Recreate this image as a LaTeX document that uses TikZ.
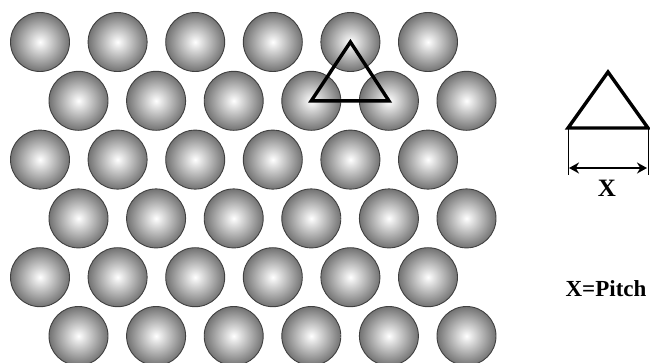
\documentclass[tikz,border=0pt]{standalone}
\usepackage{fontspec}
\setmainfont{Liberation Serif}
\usetikzlibrary{arrows.meta}
\begin{document}
\begin{tikzpicture}[x=1pt,y=-1pt,
  ball/.style={circle,minimum size=59pt,inner sep=0pt,draw=black!75,line width=0.9pt,inner color=white,outer color=black!55},
  tri/.style={line width=3.4pt,line join=miter},
  lbl/.style={font=\bfseries\fontsize{23}{26}\selectfont,inner sep=0pt}]
\useasboundingbox (0,0) rectangle (650,362);
\foreach \r in {0,...,5}{
  \pgfmathsetmacro{\yy}{42+58.8*\r}
  \pgfmathsetmacro{\xo}{ifthenelse(mod(\r,2)==0,40,78.5)}
  \foreach \c in {0,...,5}{
    \node[ball] (b\r\c) at ({\xo+77.6*\c},\yy) {};
  }
}
\draw[tri] (b04.center) -- (b13.center) -- (b14.center) -- cycle;
\coordinate (ta) at (608,72);
\coordinate (tl) at (568,128);
\coordinate (tr) at (648,128);
\draw[tri] (ta) -- (tl) -- (tr) -- cycle;
\coordinate (vl) at (568,175);
\coordinate (vr) at (648,175);
\draw[line width=0.8pt] (tl) -- (vl);
\draw[line width=0.8pt] (tr) -- (vr);
\coordinate (al) at (569,168);
\coordinate (ar) at (647,168);
\draw[line width=2.4pt,{Stealth[length=10pt,width=11pt]}-{Stealth[length=10pt,width=11pt]}] (al) -- (ar);
\node[lbl,font=\bfseries\fontsize{25}{28}\selectfont] (x) at (607,188.5) {X};
\node[lbl] (p) at (606,289) {X=Pitch};
\end{tikzpicture}
\end{document}
